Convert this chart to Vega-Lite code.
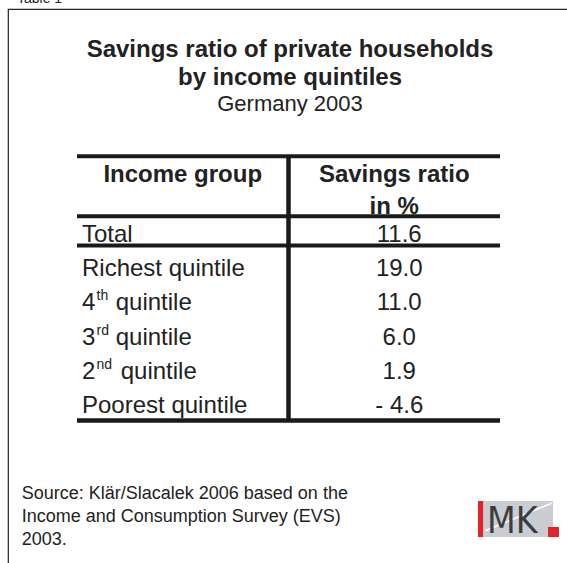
{
  "$schema": "https://vega.github.io/schema/vega-lite/v6.json",
  "width": 570,
  "height": 570,
  "autosize": "none",
  "padding": {"left": 8, "top": 9, "right": 0, "bottom": 0},
  "background": "white",
  "config": {
    "view": {"stroke": "#222222", "strokeWidth": 1.2},
    "font": "Liberation Sans",
    "text": {"font": "Liberation Sans", "fill": "#222222"}
  },
  "title": {
    "text": ["Savings ratio of private households", "by income quintiles"],
    "subtitle": "Germany 2003",
    "anchor": "middle",
    "frame": "group",
    "offset": -123,
    "dx": -3,
    "font": "Liberation Sans",
    "fontSize": 24,
    "fontWeight": "bold",
    "lineHeight": 28,
    "color": "#222222",
    "subtitleFont": "Liberation Sans",
    "subtitleFontSize": 22,
    "subtitleFontWeight": "normal",
    "subtitleColor": "#222222",
    "subtitlePadding": 4,
    "subtitleLineHeight": 26
  },
  "data": {"values": [
    {"order": 0, "group": "Total", "ratio": 11.6},
    {"order": 1, "group": "Richest quintile", "ratio": 19.0},
    {"order": 2, "group": "4th quintile", "rank": "4", "sup": "th", "rest": "quintile", "ratio": 11.0},
    {"order": 3, "group": "3rd quintile", "rank": "3", "sup": "rd", "rest": "quintile", "ratio": 6.0},
    {"order": 4, "group": "2nd quintile", "rank": "2", "sup": "nd", "rest": "quintile", "ratio": 1.9},
    {"order": 5, "group": "Poorest quintile", "ratio": -4.6}
  ]},
  "layer": [
    {
      "data": {"values": [{}]},
      "mark": {"type": "rule", "strokeWidth": 4, "color": "#1a1a1a"},
      "encoding": {
        "x": {"datum": 0, "type": "quantitative", "scale": {"domain": [0, 2], "range": [69, 492], "nice": false, "zero": false}, "axis": null},
        "x2": {"datum": 2},
        "y": {"datum": -2.29, "type": "quantitative", "scale": {"domain": [-0.5, 5.5], "range": [208.67, 414.29], "nice": false, "zero": false}, "axis": null}
      }
    },
    {
      "data": {"values": [{}]},
      "mark": {"type": "rule", "strokeWidth": 4, "color": "#1a1a1a"},
      "encoding": {
        "x": {"datum": 0, "type": "quantitative", "axis": null},
        "x2": {"datum": 2},
        "y": {"datum": -0.543, "type": "quantitative", "axis": null}
      }
    },
    {
      "data": {"values": [{}]},
      "mark": {"type": "rule", "strokeWidth": 4, "color": "#1a1a1a"},
      "encoding": {
        "x": {"datum": 0, "type": "quantitative", "axis": null},
        "x2": {"datum": 2},
        "y": {"datum": 0.312, "type": "quantitative", "axis": null}
      }
    },
    {
      "data": {"values": [{}]},
      "mark": {"type": "rule", "strokeWidth": 4.5, "color": "#1a1a1a"},
      "encoding": {
        "x": {"datum": 0, "type": "quantitative", "axis": null},
        "x2": {"datum": 2},
        "y": {"datum": 5.42, "type": "quantitative", "axis": null}
      }
    },
    {
      "data": {"values": [{}]},
      "mark": {"type": "rule", "strokeWidth": 4.5, "color": "#1a1a1a"},
      "encoding": {
        "x": {"datum": 1, "type": "quantitative", "axis": null},
        "y": {"datum": -2.29, "type": "quantitative", "axis": null},
        "y2": {"datum": 5.42}
      }
    },
    {
      "data": {"values": [{}]},
      "mark": {"type": "text", "fontSize": 14, "align": "left", "baseline": "alphabetic"},
      "encoding": {
        "x": {"datum": -0.2837, "type": "quantitative", "axis": null},
        "y": {"datum": -6.764, "type": "quantitative", "axis": null},
        "text": {"value": "Table 1"}
      }
    },
    {
      "data": {"values": [{}]},
      "mark": {"type": "text", "fontSize": 24, "fontWeight": "bold", "align": "center", "baseline": "middle"},
      "encoding": {
        "x": {"datum": 0.5, "type": "quantitative", "axis": null},
        "y": {"datum": -1.74, "type": "quantitative", "axis": null},
        "text": {"value": "Income group"}
      }
    },
    {
      "data": {"values": [{}]},
      "mark": {"type": "text", "fontSize": 24, "fontWeight": "bold", "align": "center", "baseline": "middle"},
      "encoding": {
        "x": {"datum": 1.5, "type": "quantitative", "axis": null},
        "y": {"datum": -1.74, "type": "quantitative", "axis": null},
        "text": {"value": "Savings ratio"}
      }
    },
    {
      "data": {"values": [{}]},
      "mark": {"type": "text", "fontSize": 24, "fontWeight": "bold", "align": "center", "baseline": "middle"},
      "encoding": {
        "x": {"datum": 1.5, "type": "quantitative", "axis": null},
        "y": {"datum": -0.814, "type": "quantitative", "axis": null},
        "text": {"value": "in %"}
      }
    },
    {
      "transform": [{"filter": "!datum.sup"}],
      "mark": {"type": "text", "fontSize": 24, "align": "left", "baseline": "middle", "dx": 5},
      "encoding": {
        "x": {"datum": 0, "type": "quantitative", "axis": null},
        "y": {"field": "order", "type": "quantitative", "axis": null},
        "text": {"field": "group"}
      }
    },
    {
      "transform": [{"filter": "datum.sup"}],
      "mark": {"type": "text", "fontSize": 24, "align": "left", "baseline": "middle", "dx": 5},
      "encoding": {
        "x": {"datum": 0, "type": "quantitative", "axis": null},
        "y": {"field": "order", "type": "quantitative", "axis": null},
        "text": {"field": "rank"}
      }
    },
    {
      "transform": [{"filter": "datum.sup"}],
      "mark": {"type": "text", "fontSize": 14, "align": "left", "baseline": "middle", "dx": 19.5, "dy": -7},
      "encoding": {
        "x": {"datum": 0, "type": "quantitative", "axis": null},
        "y": {"field": "order", "type": "quantitative", "axis": null},
        "text": {"field": "sup"}
      }
    },
    {
      "transform": [{"filter": "datum.sup && datum.sup != 'nd'"}],
      "mark": {"type": "text", "fontSize": 24, "align": "left", "baseline": "middle", "dx": 38.7},
      "encoding": {
        "x": {"datum": 0, "type": "quantitative", "axis": null},
        "y": {"field": "order", "type": "quantitative", "axis": null},
        "text": {"field": "rest"}
      }
    },
    {
      "transform": [{"filter": "datum.sup == 'nd'"}],
      "mark": {"type": "text", "fontSize": 24, "align": "left", "baseline": "middle", "dx": 43.7},
      "encoding": {
        "x": {"datum": 0, "type": "quantitative", "axis": null},
        "y": {"field": "order", "type": "quantitative", "axis": null},
        "text": {"field": "rest"}
      }
    },
    {
      "transform": [{"calculate": "(datum.ratio < 0 ? '- ' : '') + format(abs(datum.ratio), '.1f')", "as": "ratio_label"}],
      "mark": {"type": "text", "fontSize": 24, "align": "center", "baseline": "middle", "dx": 5},
      "encoding": {
        "x": {"datum": 1.5, "type": "quantitative", "axis": null},
        "y": {"field": "order", "type": "quantitative", "axis": null},
        "text": {"field": "ratio_label"}
      }
    },
    {
      "data": {"values": [{}]},
      "mark": {"type": "text", "fontSize": 18, "align": "left", "baseline": "top", "lineHeight": 23},
      "encoding": {
        "x": {"datum": -0.2615, "type": "quantitative", "axis": null},
        "y": {"datum": 7.289, "type": "quantitative", "axis": null},
        "text": {"value": ["Source: Klär/Slacalek 2006 based on the", "Income and Consumption Survey (EVS)", "2003."]}
      }
    },
    {
      "data": {"values": [{}]},
      "mark": {"type": "rect", "color": "#c9cdd1"},
      "encoding": {
        "x": {"datum": 1.896, "type": "quantitative", "axis": null},
        "x2": {"datum": 2.251},
        "y": {"datum": 7.768, "type": "quantitative", "axis": null},
        "y2": {"datum": 8.818}
      }
    },
    {
      "data": {"values": [{}]},
      "mark": {"type": "rule", "color": "white", "strokeWidth": 1.5},
      "encoding": {
        "x": {"datum": 1.93, "type": "quantitative", "axis": null},
        "x2": {"datum": 2.244},
        "y": {"datum": 8.634, "type": "quantitative", "axis": null},
        "y2": {"datum": 7.835}
      }
    },
    {
      "data": {"values": [{}]},
      "mark": {"type": "rect", "color": "#e3232a"},
      "encoding": {
        "x": {"datum": 1.896, "type": "quantitative", "axis": null},
        "x2": {"datum": 1.92},
        "y": {"datum": 7.768, "type": "quantitative", "axis": null},
        "y2": {"datum": 8.818}
      }
    },
    {
      "data": {"values": [{}]},
      "mark": {"type": "text", "font": "'DejaVu Sans Condensed', 'Liberation Sans'", "fontSize": 37, "align": "left", "baseline": "alphabetic", "fill": "#3b3e41"},
      "encoding": {
        "x": {"datum": 1.939, "type": "quantitative", "axis": null},
        "y": {"datum": 8.701, "type": "quantitative", "axis": null},
        "text": {"value": "MK"}
      }
    },
    {
      "data": {"values": [{}]},
      "mark": {"type": "rect", "color": "#e3232a"},
      "encoding": {
        "x": {"datum": 2.227, "type": "quantitative", "axis": null},
        "x2": {"datum": 2.279},
        "y": {"datum": 8.526, "type": "quantitative", "axis": null},
        "y2": {"datum": 8.818}
      }
    }
  ]
}
